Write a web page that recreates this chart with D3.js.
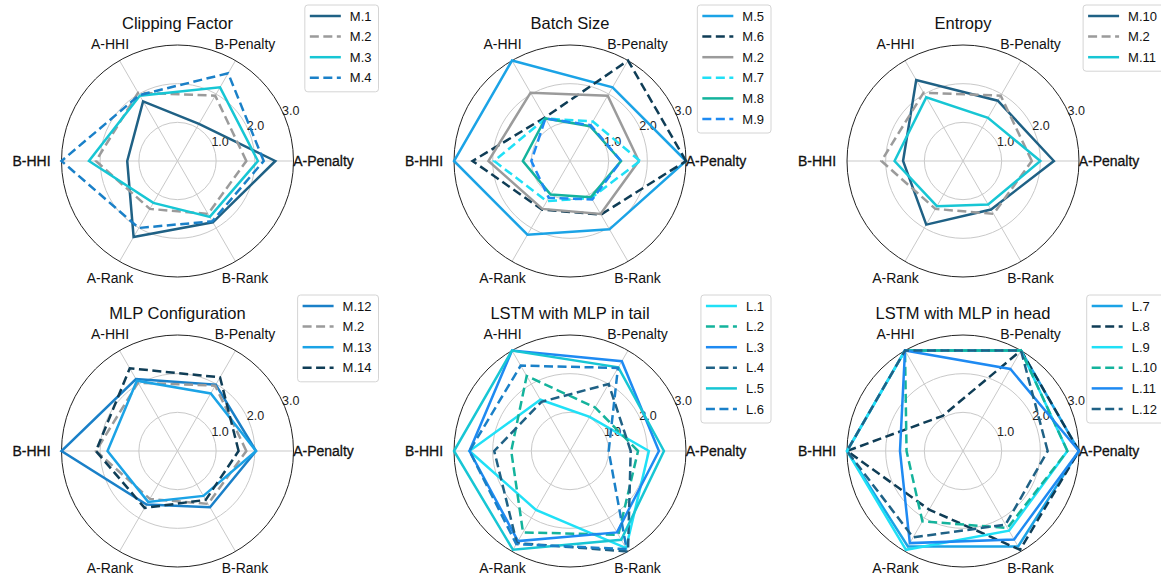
<!DOCTYPE html>
<html>
<head>
<meta charset="utf-8">
<script src="https://cdn.jsdelivr.net/npm/d3@7"></script>
<style>
  html, body { margin: 0; padding: 0; background: #fff; }
  svg { display: block; font-family: "Liberation Sans", Arial, Helvetica, sans-serif; }
  .grid { fill: none; stroke: #c9c9c9; stroke-width: 1; }
  .rim { fill: none; stroke: #222; stroke-width: 1; }
  .axis-lbl { font-size: 14px; fill: #111; }
  .tick-lbl { font-size: 12.5px; fill: #222; }
  .title { font-size: 16.5px; fill: #111; }
  .leg-box { fill: #fff; stroke: #d4d4d4; stroke-width: 1; }
  .leg-txt { font-size: 13px; fill: #111; }
</style>
</head>
<body>
<svg id="chart" width="1161" height="581"></svg>
<script>
// ---- data -----------------------------------------------------------------
const AXES = ['A-Penalty', 'B-Penalty', 'A-HHI', 'B-HHI', 'A-Rank', 'B-Rank'];
const TICKS = [1.0, 2.0, 3.0];
const TITLES = ['Clipping Factor', 'Batch Size', 'Entropy',
                'MLP Configuration', 'LSTM with MLP in tail', 'LSTM with MLP in head'];

// values in AXES order
const M1  = [2.53, 1.11, 1.78, 1.30, 2.27, 1.83];
const M2  = [1.78, 1.95, 2.04, 2.11, 1.43, 1.58];
const M3  = [2.08, 2.20, 1.95, 2.29, 1.25, 1.67];
const M4  = [2.23, 2.62, 1.97, 3.00, 2.00, 1.80];
const M5  = [3.00, 2.20, 3.00, 3.00, 2.20, 2.04];
const M6  = [3.00, 3.00, 1.30, 2.52, 1.45, 1.60];
const M7  = [1.81, 1.18, 1.27, 1.96, 1.20, 1.10];
const M8  = [1.32, 1.04, 1.27, 1.22, 1.00, 1.08];
const M9  = [1.32, 1.07, 1.27, 1.00, 1.10, 1.15];
const M10 = [2.35, 1.80, 2.42, 1.55, 1.90, 1.45];
const M11 = [2.00, 1.29, 1.90, 1.77, 1.35, 1.30];
const M12 = [2.03, 1.98, 2.15, 3.00, 1.60, 1.68];
const M13 = [2.03, 1.72, 2.10, 1.81, 1.52, 1.34];
const M14 = [1.58, 2.20, 2.47, 2.11, 1.70, 1.46];
const L1  = [2.04, 1.02, 1.53, 2.60, 1.76, 2.90];
const L2  = [1.76, 1.30, 2.24, 1.52, 2.43, 2.50];
const L3  = [2.30, 2.68, 3.00, 2.60, 2.69, 2.43];
const L4  = [1.57, 2.00, 1.47, 1.96, 2.75, 3.00];
const L5  = [2.43, 2.50, 3.00, 3.00, 2.95, 2.65];
const L6  = [1.00, 2.48, 2.55, 2.60, 2.78, 2.93];
const L7  = [3.00, 3.00, 3.00, 3.00, 2.85, 2.85];
const L8  = [3.00, 3.00, 1.05, 3.00, 1.75, 2.95];
const L9  = [2.70, 3.00, 3.00, 3.00, 2.95, 2.38];
const L10 = [2.70, 3.00, 3.00, 1.46, 2.10, 2.30];
const L11 = [3.00, 2.45, 3.00, 1.63, 2.75, 2.64];
const L12 = [2.19, 3.00, 3.00, 3.00, 2.58, 2.20];

const PANEL_NAMES = [
  ['M.1', 'M.2', 'M.3', 'M.4'],
  ['M.5', 'M.6', 'M.2', 'M.7', 'M.8', 'M.9'],
  ['M.10', 'M.2', 'M.11'],
  ['M.12', 'M.2', 'M.13', 'M.14'],
  ['L.1', 'L.2', 'L.3', 'L.4', 'L.5', 'L.6'],
  ['L.7', 'L.8', 'L.9', 'L.10', 'L.11', 'L.12']
];
const PANEL_VALUES = [
  [M1, M2, M3, M4],
  [M5, M6, M2, M7, M8, M9],
  [M10, M2, M11],
  [M12, M2, M13, M14],
  [L1, L2, L3, L4, L5, L6],
  [L7, L8, L9, L10, L11, L12]
];

// ---- styles ---------------------------------------------------------------
const C = {
  steel: '#1f6185', dark: '#0f3d56', gray: '#9b9b9b', cyan: '#17c6d4',
  blue: '#1a80c8', light: '#1ba3e6', bcyan: '#20e0f6', teal: '#14b39c', bblue: '#1e8af2'
};
// [colour, dashed]
const PANEL_STYLES = [
  [[C.steel, 0], [C.gray, 1], [C.cyan, 0], [C.blue, 1]],
  [[C.light, 0], [C.dark, 1], [C.gray, 0], [C.bcyan, 1], [C.teal, 0], [C.bblue, 1]],
  [[C.steel, 0], [C.gray, 1], [C.cyan, 0]],
  [[C.blue, 0], [C.gray, 1], [C.light, 0], [C.dark, 1]],
  [[C.bcyan, 0], [C.teal, 1], [C.bblue, 0], [C.steel, 1], [C.cyan, 0], [C.blue, 1]],
  [[C.light, 0], [C.dark, 1], [C.bcyan, 0], [C.teal, 1], [C.bblue, 0], [C.steel, 1]]
];

// ---- layout ---------------------------------------------------------------
const CX = [177.5, 570, 963];
const CY = [161, 451];
const R = 116;
const DASH = '9,4.5';

const svg = d3.select('#chart');
svg.append('rect').attr('width', 1161).attr('height', 581).attr('fill', '#fff');

const r = d3.scaleLinear().domain([0, 3]).range([0, R]);
const theta = i => i * Math.PI / 3;          // maths angle, 0 = east, ccw
const line = d3.lineRadial()
  .angle((d, i) => Math.PI / 2 - theta(i))   // d3 angle: clockwise from north
  .radius(d => r(d))
  .curve(d3.curveLinearClosed);

TITLES.forEach((title, p) => {
  const cx = CX[p % 3], cy = CY[Math.floor(p / 3)];
  const g = svg.append('g').attr('transform', `translate(${cx},${cy})`);

  // grid rings + spokes
  TICKS.slice(0, -1).forEach(t => g.append('circle').attr('class', 'grid').attr('r', r(t)));
  AXES.forEach((a, i) => {
    g.append('line').attr('class', 'grid')
      .attr('x1', 0).attr('y1', 0)
      .attr('x2', r(3) * Math.cos(theta(i))).attr('y2', -r(3) * Math.sin(theta(i)));
  });
  g.append('circle').attr('class', 'rim').attr('r', r(3));

  // radial tick labels
  const a24 = 24 * Math.PI / 180;
  TICKS.forEach(t => {
    g.append('text').attr('class', 'tick-lbl')
      .attr('x', (r(t) + 8) * Math.cos(a24)).attr('y', -(r(t) + 8) * Math.sin(a24))
      .attr('text-anchor', 'middle').attr('dominant-baseline', 'central')
      .text(t.toFixed(1));
  });

  // axis labels
  AXES.forEach((a, i) => {
    const rr = i % 3 === 0 ? 146 : 135;
    const t = g.append('text').attr('class', 'axis-lbl')
      .attr('x', rr * Math.cos(theta(i))).attr('y', -rr * Math.sin(theta(i)))
      .attr('text-anchor', 'middle').attr('dominant-baseline', 'central')
      .text(a);
    if (i % 3 === 0) t.attr('stroke', '#111').attr('stroke-width', 0.3);
  });

  // series
  const vals = PANEL_VALUES[p], styles = PANEL_STYLES[p], names = PANEL_NAMES[p];
  vals.forEach((v, k) => {
    g.append('path').attr('d', line(v))
      .attr('fill', 'none')
      .attr('stroke', styles[k][0])
      .attr('stroke-width', 2.5)
      .attr('stroke-linejoin', 'miter')
      .attr('stroke-dasharray', styles[k][1] ? DASH : null);
  });

  // title
  g.append('text').attr('class', 'title')
    .attr('x', 0).attr('y', -132).attr('text-anchor', 'middle').text(title);

  // legend, anchored at the top-right
  const lg = svg.append('g');
  const right = cx + 201, top = cy - 156;
  const box = lg.append('rect').attr('class', 'leg-box').attr('rx', 3).attr('ry', 3);
  let tw = 0;
  const texts = names.map((n, k) => lg.append('text').attr('class', 'leg-txt')
    .attr('y', top + 11 + k * 20.6).attr('dominant-baseline', 'central').text(n));
  texts.forEach(t => { tw = Math.max(tw, t.node().getComputedTextLength()); });
  const left = right - (5 + 31 + 9 + tw + 7);
  texts.forEach(t => t.attr('x', left + 45));
  names.forEach((n, k) => {
    lg.append('line')
      .attr('x1', left + 5).attr('x2', left + 36)
      .attr('y1', top + 11 + k * 20.6).attr('y2', top + 11 + k * 20.6)
      .attr('stroke', styles[k][0]).attr('stroke-width', 2.5)
      .attr('stroke-dasharray', styles[k][1] ? DASH : null);
  });
  box.attr('x', left).attr('y', top).attr('width', right - left)
    .attr('height', 11 + (names.length - 1) * 20.6 + 14);
});
</script>
</body>
</html>
